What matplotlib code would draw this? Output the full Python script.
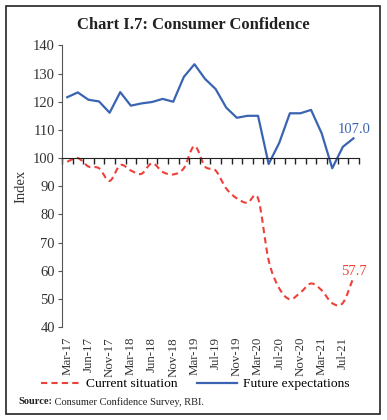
import matplotlib.pyplot as plt
from matplotlib.path import Path
from matplotlib.patches import PathPatch, Rectangle
from matplotlib.lines import Line2D
from matplotlib.text import Annotation

# survey rounds
ROUNDS = ["Mar-17", "May-17", "Jun-17", "Sep-17", "Nov-17", "Dec-17",
          "Mar-18", "May-18", "Jun-18", "Sep-18", "Nov-18", "Dec-18",
          "Mar-19", "May-19", "Jul-19", "Sep-19", "Nov-19", "Jan-20",
          "Mar-20", "May-20", "Jul-20", "Sep-20", "Nov-20", "Jan-21",
          "Mar-21", "May-21", "Jul-21", "Sep-21"]

CURRENT_SITUATION = [98.7, 100.0, 97.0, 96.4, 91.9, 97.5, 95.6, 94.4, 98.2, 95.1,
                     94.2, 96.4, 104.3, 97.0, 95.6, 89.2, 85.7, 84.1, 85.7, 63.7,
                     53.8, 49.9, 52.3, 55.5, 53.1, 48.5, 48.6, 57.7]

FUTURE_EXPECTATIONS = [121.6, 123.3, 120.7, 120.1, 116.1, 123.4, 118.6, 119.4, 119.9, 121.0,
                       120.0, 128.8, 133.3, 128.1, 124.5, 117.9, 114.3, 115.0, 115.0, 97.9,
                       105.4, 115.9, 115.9, 117.1, 108.8, 96.4, 104.0, 107.0]

BLUE = "#3A64B2"
RED = "#EE4038"
SERIF = "Liberation Serif"


def smooth_path(xs, ys):
    # Catmull-Rom style bezier, like a spreadsheet "smoothed line"
    n = len(xs)
    verts = [(xs[0], ys[0])]
    codes = [Path.MOVETO]
    for i in range(n - 1):
        a = max(i - 1, 0)
        d = min(i + 2, n - 1)
        c1 = (xs[i] + (xs[i + 1] - xs[a]) / 6, ys[i] + (ys[i + 1] - ys[a]) / 6)
        c2 = (xs[i + 1] - (xs[d] - xs[i]) / 6, ys[i + 1] - (ys[d] - ys[i]) / 6)
        verts += [c1, c2, (xs[i + 1], ys[i + 1])]
        codes += [Path.CURVE4] * 3
    return Path(verts, codes)


fig = plt.figure(figsize=(3.87, 4.2), dpi=100)
ax = fig.add_axes([0.160, 0.221, 0.767, 0.671])

x = list(range(len(ROUNDS)))

ax.plot(x, FUTURE_EXPECTATIONS, color=BLUE, lw=1.6)
ax.add_patch(PathPatch(smooth_path(x, CURRENT_SITUATION), fill=False,
                       edgecolor=RED, lw=1.5, linestyle=(0, (3, 2))))

ax.set_xlim(-0.5, len(ROUNDS) - 0.5)
ax.set_ylim(40, 140)
ax.set_yticks(range(40, 141, 10))

for s in ["top", "right"]:
    ax.spines[s].set_visible(False)
ax.spines["left"].set_color("#555555")
ax.spines["bottom"].set_position(("data", 100))
ax.spines["bottom"].set_color("#222222")

ax.set_xticks([i - 0.5 for i in range(len(ROUNDS) + 1)])
ax.tick_params(axis="x", direction="out", length=4, width=1, color="#222222",
               labelbottom=False)
ax.tick_params(axis="y", direction="out", length=3, color="#555555",
               labelsize=10.5, pad=2, labelcolor="#333333")
for lab in ax.get_yticklabels():
    lab.set_fontfamily(SERIF)

sec = ax.secondary_xaxis(0.0)
sec.set_xticks(x[::2])
sec.set_xticklabels(ROUNDS[::2], rotation=90, fontfamily=SERIF, fontsize=9.3,
                    color="#333333")
sec.tick_params(length=0, pad=7)
sec.spines["bottom"].set_visible(False)

ax.set_ylabel("Index", fontfamily=SERIF, fontsize=10.5, color="#333333", labelpad=4)

ax.annotate(f"{FUTURE_EXPECTATIONS[-1]:.1f}", (x[-1], FUTURE_EXPECTATIONS[-1]),
            xytext=(1, 2), textcoords="offset pixels", ha="center", va="bottom",
            color=BLUE, fontfamily=SERIF, fontsize=10.5)
ax.annotate(f"{CURRENT_SITUATION[-1]:.1f}", (x[-1], CURRENT_SITUATION[-1]),
            xytext=(0, 6), textcoords="offset pixels", ha="center", va="center",
            color=RED, fontfamily=SERIF, fontsize=10.5)

handles = [Line2D([], [], color=RED, lw=1.5, linestyle=(0, (3, 2))),
           Line2D([], [], color=BLUE, lw=1.6)]
fig.legend(handles, ["Current situation", "Future expectations"],
           loc="center", bbox_to_anchor=(195 / 387, 1 - 384 / 420), ncol=2,
           frameon=False, prop={"family": SERIF, "size": 9.7},
           handlelength=3.0, columnspacing=1.4, handletextpad=0.4)

fig.text(0.5, 1 - 25 / 420, "Chart I.7: Consumer Confidence", ha="center",
         va="center", fontfamily=SERIF, fontweight="bold", fontsize=12, color="#222222")
src = fig.text(18 / 387, 1 - 402 / 420, "Source:", ha="left", va="center",
               fontfamily=SERIF, fontweight="bold", fontsize=7.5, color="#222222")
fig.add_artist(Annotation(" Consumer Confidence Survey, RBI.", xy=(1, 0.5), xycoords=src,
                          ha="left", va="center", fontfamily=SERIF, fontsize=7.5,
                          color="#222222"))

fig.add_artist(Rectangle((6 / 387, 6 / 420), 374 / 387, 408 / 420,
                         transform=fig.transFigure, fill=False,
                         edgecolor="#222222", lw=1.2))

fig.savefig("out.png", dpi=100)
